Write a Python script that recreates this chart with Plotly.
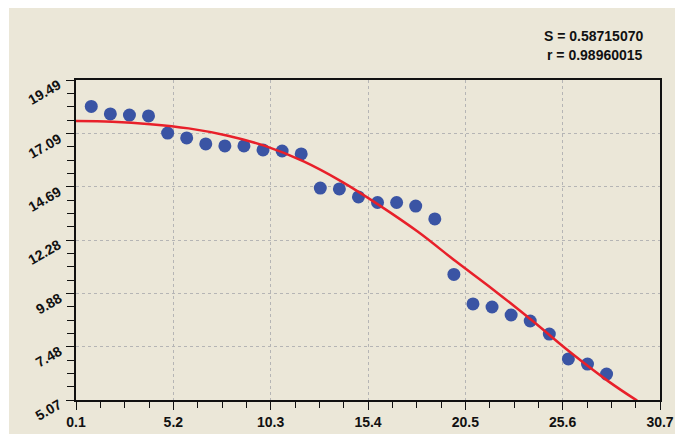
import numpy as np
import plotly.graph_objects as go

# ---- data ----
x_points = [0.9, 1.9, 2.9, 3.9, 4.9, 5.9, 6.9, 7.9, 8.9, 9.9, 10.9, 11.9, 12.9, 13.9,
            14.9, 15.9, 16.9, 17.9, 18.9, 19.9, 20.9, 21.9, 22.9, 23.9, 24.9, 25.9, 26.9, 27.9]
y_points = [18.30, 17.96, 17.91, 17.87, 17.10, 16.88, 16.61, 16.52, 16.52, 16.34, 16.29, 16.16,
            14.62, 14.58, 14.22, 13.97, 13.97, 13.81, 13.23, 10.73, 9.40, 9.26, 8.90, 8.63,
            8.04, 6.92, 6.69, 6.24]

x_curve = [0.1, 2, 4, 6, 8, 10, 12, 14, 16, 18, 20, 22, 24, 26, 28, 29.5]
y_curve = [17.64, 17.61, 17.50, 17.31, 16.99, 16.52, 15.83, 14.92, 13.84, 12.66,
           11.32, 10.02, 8.65, 7.22, 5.91, 5.04]

x_ticklabels = ["0.1", "5.2", "10.3", "15.4", "20.5", "25.6", "30.7"]
y_ticklabels = ["5.07", "7.48", "9.88", "12.28", "14.69", "17.09", "19.49"]

stat_lines = ["S = 0.58715070", "r = 0.98960015"]

# ---- axes geometry ----
x_min, x_max = float(x_ticklabels[0]), float(x_ticklabels[-1])
y_min, y_max = float(y_ticklabels[0]), float(y_ticklabels[-1])
x_tickvals = np.linspace(x_min, x_max, len(x_ticklabels))
y_tickvals = np.linspace(y_min, y_max, len(y_ticklabels))
x_step = (x_max - x_min) / (len(x_ticklabels) - 1)
y_step = (y_max - y_min) / (len(y_ticklabels) - 1)

FONT = "Liberation Sans, Arial, sans-serif"
BEIGE = "#ebe7d8"
FS = 14

fig = go.Figure()
fig.add_trace(go.Scatter(
    x=x_points, y=y_points, mode="markers",
    marker=dict(color="#3a54a4", size=13, line=dict(width=0)),
    showlegend=False))
fig.add_trace(go.Scatter(
    x=x_curve, y=y_curve, mode="lines",
    line=dict(color="#e8202a", width=2.5, shape="spline", smoothing=1.0),
    hoverinfo="skip", showlegend=False))

axis_common = dict(
    automargin=False,
    showline=True, linecolor="#111111", linewidth=1.5, mirror=True,
    showgrid=True, gridcolor="#b5b5b5", griddash="dot", gridwidth=1,
    zeroline=False, ticks="outside", ticklen=8, tickcolor="#111111", tickwidth=1.3,
    tickfont=dict(family=FONT, size=FS, color="#111111", weight="bold"),
)

fig.update_xaxes(
    range=[x_min, x_max], tickmode="array", tickvals=x_tickvals, ticktext=x_ticklabels,
    minor=dict(ticks="outside", ticklen=6, tickcolor="#111111", tickwidth=1.3,
               tick0=x_min, dtick=x_step / 4, showgrid=False),
    **axis_common)
fig.update_yaxes(
    range=[y_min, y_max], tickmode="array", tickvals=y_tickvals, ticktext=y_ticklabels,
    showticklabels=False,
    minor=dict(ticks="outside", ticklen=7, tickcolor="#111111", tickwidth=1.3,
               tick0=y_min, dtick=y_step / 4, showgrid=False),
    **axis_common)

L, R, T, B = 76, 15, 80, 34
W, H = 675, 434
pw, ph = W - L - R, H - T - B

# beige panel behind the chart
fig.add_shape(type="rect", xref="paper", yref="paper",
              x0=(9 - L) / pw, x1=(W + 5 - L) / pw,
              y0=-(B + 5) / ph, y1=(H - B - 8) / ph,
              fillcolor=BEIGE, line=dict(width=0), layer="below")

# rotated y tick labels (upper-right end at the tick, slanting down-left)
ang = np.radians(30)
for val, lab in zip(y_tickvals, y_ticklabels):
    n_dig = sum(c.isdigit() for c in lab)
    w = n_dig * 0.556 * FS + 0.278 * FS
    h = FS * 0.9
    bw = w * np.cos(ang) + h * np.sin(ang)
    bh = w * np.sin(ang) + h * np.cos(ang)
    cx = 63 - bw / 2
    fig.add_annotation(
        text=lab, xref="paper", yref="y", x=(cx - L) / pw, y=val,
        yshift=-(bh / 2 - 2), xanchor="center", yanchor="middle",
        textangle=-30, showarrow=False,
        font=dict(family=FONT, size=FS, color="#111111", weight="bold"))

for i, txt in enumerate(stat_lines):
    fig.add_annotation(
        text=txt, xref="paper", yref="paper",
        x=(645 - L) / pw, y=(H - B - (36 + 19 * i)) / ph,
        xanchor="right", yanchor="middle", showarrow=False,
        font=dict(family=FONT, size=FS, color="#111111", weight="bold"))

fig.update_layout(
    width=W, height=H,
    margin=dict(l=L, r=R, t=T, b=B, pad=0, autoexpand=False),
    paper_bgcolor="white", plot_bgcolor="white",
    showlegend=False,
)

fig.write_html("out.html")
